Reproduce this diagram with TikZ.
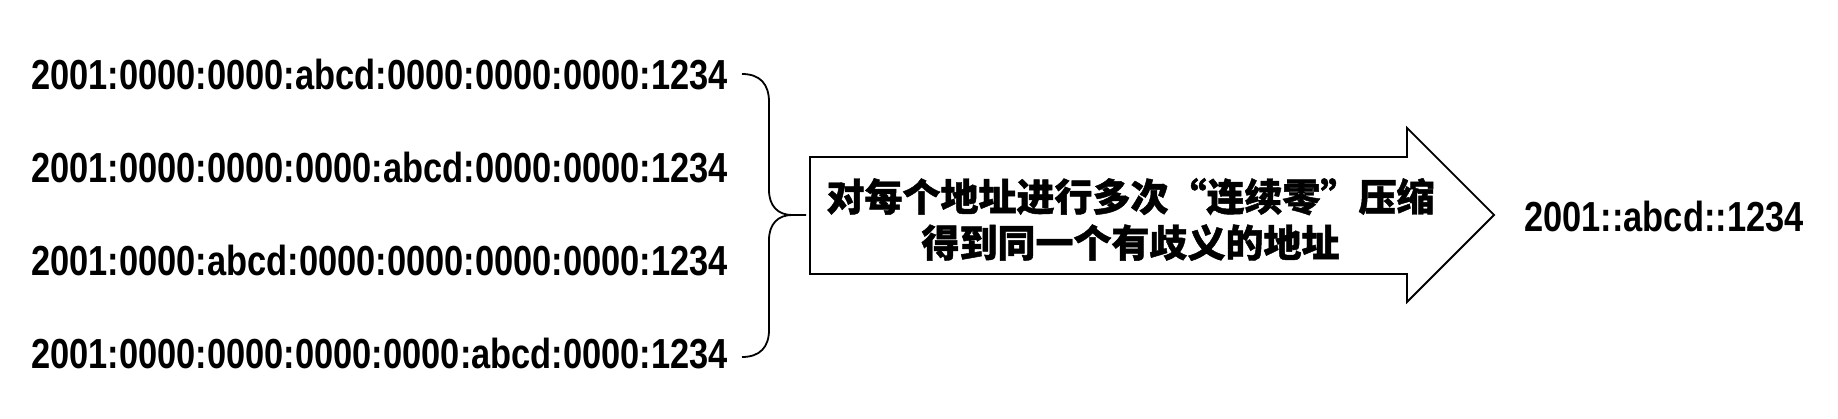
\documentclass[tikz,border=0pt]{standalone}
\usepackage{fontspec}
\newfontfamily\addrfont{Liberation Sans}[FakeStretch=0.82]
\newfontfamily\cjkfont{Noto Sans CJK SC}[FakeBold=1.2]
\begin{document}
\begin{tikzpicture}[x=1pt,y=-1pt,
  addr/.style={anchor=base west, inner sep=0pt, font=\addrfont\bfseries\fontsize{42}{50}\selectfont},
  cjkline/.style={anchor=base, inner sep=0pt, font=\cjkfont\bfseries\fontsize{38}{46}\selectfont},
  outline/.style={draw=black, line width=1.8pt, line join=miter},
  bracestyle/.style={draw=black, line width=1.8pt}]
\useasboundingbox (0,0) rectangle (1838,419);
\node[addr] (a1) at (31,90) {2001:0000:0000:abcd:0000:0000:0000:1234};
\node[addr] (a2) at (31,182.7) {2001:0000:0000:0000:abcd:0000:0000:1234};
\node[addr] (a3) at (31,275.3) {2001:0000:abcd:0000:0000:0000:0000:1234};
\node[addr] (a4) at (31,368) {2001:0000:0000:0000:0000:abcd:0000:1234};
\node[addr] (res) at (1524,232) {2001::abcd::1234};
% brace
\coordinate (bt) at (742,74);
\coordinate (bb) at (742,357);
\coordinate (bm) at (792,215);
\coordinate (btip) at (806,215);
\path[bracestyle] (bt) .. controls (760,74) and (769,84) .. (769,102) -- (769,190)
  .. controls (769,206) and (778,215) .. (bm) -- (btip);
\path[bracestyle] (bb) .. controls (760,357) and (769,347) .. (769,330) -- (769,240)
  .. controls (769,224) and (778,215) .. (bm);
% arrow
\coordinate (p1) at (810,157);
\coordinate (p2) at (1407,157);
\coordinate (p3) at (1407,128);
\coordinate (tip) at (1494,215);
\coordinate (p5) at (1407,302);
\coordinate (p6) at (1407,274);
\coordinate (p7) at (810,274);
\path[outline] (p1) -- (p2) -- (p3) -- (tip) -- (p5) -- (p6) -- (p7) -- cycle;
\node[cjkline] (c1) at (1130.5,211) {对每个地址进行多次“连续零”压缩};
\node[cjkline] (c2) at (1130.5,257) {得到同一个有歧义的地址};
\end{tikzpicture}
\end{document}
